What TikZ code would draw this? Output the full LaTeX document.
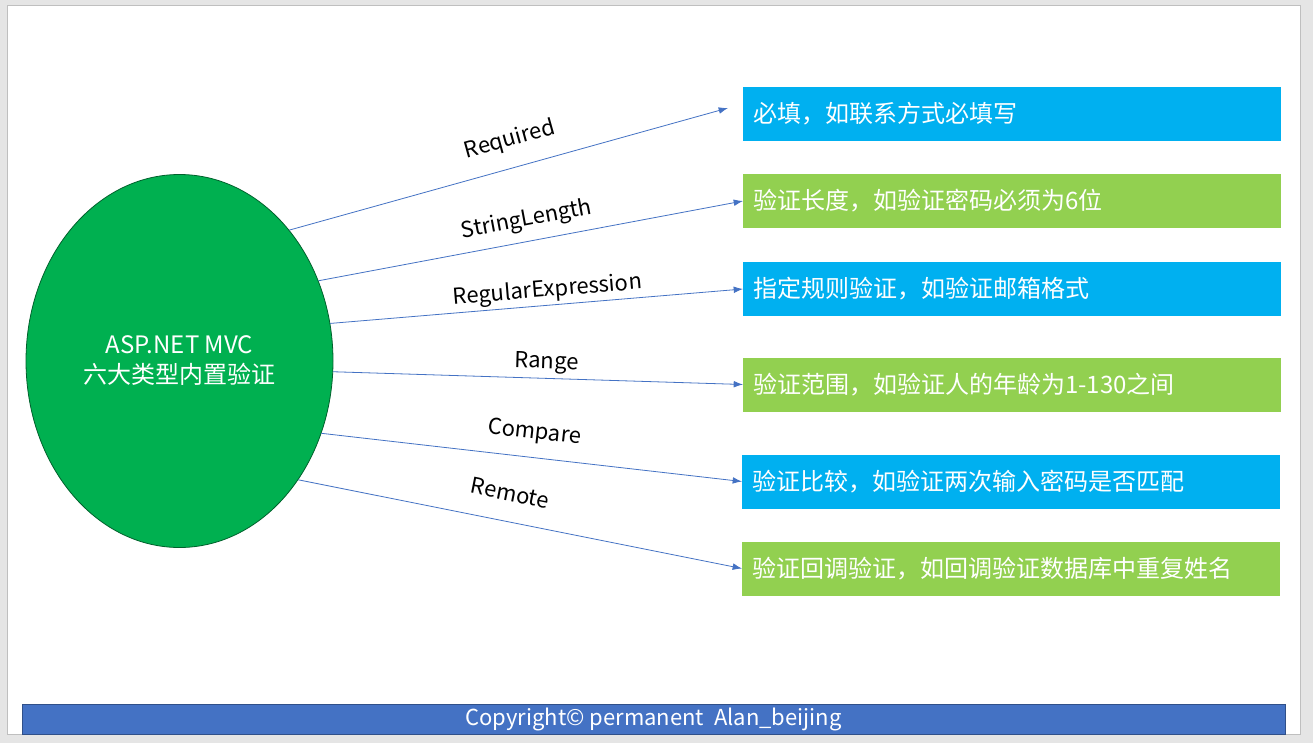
\documentclass[tikz,border=0pt]{standalone}
\usepackage{fontspec}
\setmainfont{Noto Sans CJK SC}
\usetikzlibrary{arrows.meta,shapes.geometric,calc}
\definecolor{boxblue}{HTML}{00B0F0}
\definecolor{boxgreen}{HTML}{92D050}
\definecolor{ovalgreen}{HTML}{00B050}
\definecolor{linkblue}{HTML}{4472C4}

\begin{document}
\begin{tikzpicture}[x=0.75pt, y=-0.75pt,
  oval/.style={ellipse, draw=ovalgreen!55!black, line width=0.6pt, fill=ovalgreen, text=white,
    minimum width=230.25pt, minimum height=279.75pt, inner sep=0pt, align=center,
    font=\fontsize{18}{22.5}\selectfont},
  rulebox/.style={anchor=west, text=white, inner xsep=7.5pt, inner ysep=0pt, minimum height=40.5pt,
    text width=388.5pt, align=left, font=\fontsize{18}{22}\selectfont},
  link/.style={draw=linkblue, line width=0.6pt, -{Latex[length=7pt,width=5pt]}},
  tag/.style={sloped, above=#1, inner sep=0pt, font=\fontsize{16.5}{19}\selectfont},
  tag/.default=6pt]
\useasboundingbox (0,0) rectangle (1313,743);
\fill[black!10] (0,0) rectangle (1313,743);
\draw[black!25, fill=white, line width=0.6pt] (7,5) rectangle (1300,734);

\node[oval] (asp) at (179.5,361) {ASP.NET MVC\\六大类型内置验证};

\node[rulebox, fill=boxblue] (req) at (743,113.5) {必填，如联系方式必填写};
\node[rulebox, fill=boxgreen] (len) at (743,201) {验证长度，如验证密码必须为6位};
\node[rulebox, fill=boxblue] (reg) at (743,289) {指定规则验证，如验证邮箱格式};
\node[rulebox, fill=boxgreen] (rng) at (743,384.5) {验证范围，如验证人的年龄为1-130之间};
\node[rulebox, fill=boxblue] (cmp) at (742,481.5) {验证比较，如验证两次输入密码是否匹配};
\node[rulebox, fill=boxgreen] (rmt) at (742,568.5) {验证回调验证，如回调验证数据库中重复姓名};

\coordinate (reqtip) at ($(req.west)+(-15,-5.5)$);

\draw[link] (asp.50) -- node[tag=12pt, pos=0.52] {Required} (reqtip);
\draw[link] (asp.30) -- node[tag=7pt, pos=0.5] {StringLength} (len.west);
\draw[link] (asp.14) -- node[tag=2pt, pos=0.53] {RegularExpression} (reg.west);
\draw[link] (asp.-4) -- node[tag=3pt, pos=0.52] {Range} (rng.west);
\draw[link] (asp.-27) -- node[tag=10pt, pos=0.5] {Compare} (cmp.west);
\draw[link] (asp.-45) -- node[tag=15pt, pos=0.465] {Remote} (rmt.west);

\node[draw=linkblue!70!black, fill=linkblue, text=white, minimum width=947.25pt, minimum height=22.5pt,
  inner sep=0pt, font=\fontsize{16.5}{18}\selectfont] (copy) at (653.5,719) {Copyright© permanent\ \ Alan\_beijing};
\end{tikzpicture}
\end{document}
